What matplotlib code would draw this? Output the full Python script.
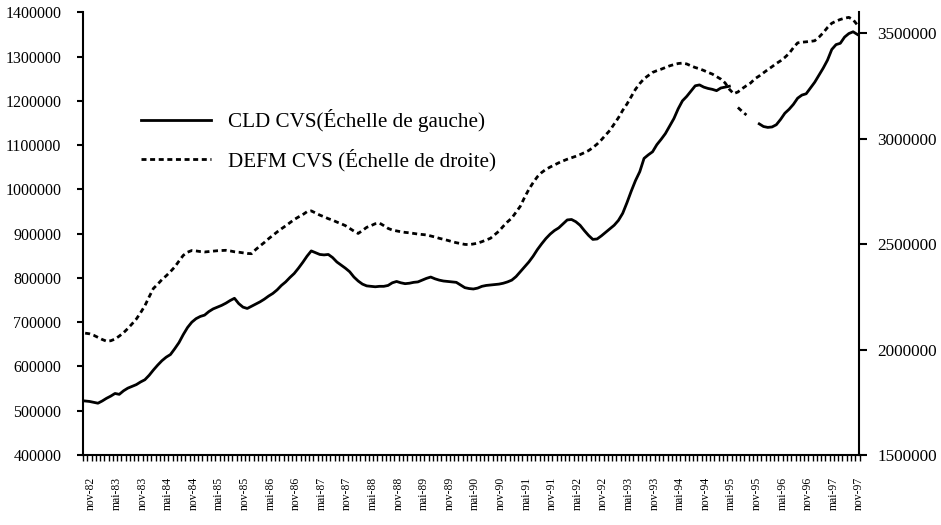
import numpy as np
from matplotlib import pyplot as plt
from matplotlib.ticker import FixedLocator, FuncFormatter

plt.rcParams['font.family'] = ['Liberation Serif', 'DejaVu Serif']

# monthly series, nov-82 .. dec-97 (182 months)
# CLD CVS, left axis (thousands), NaN where the series is broken
cld = [522, 521, 519, 517, 522, 528, 533, 539, 537, 545, 551, 555, 559,
       565, 570, 580, 592, 603, 613, 621, 627, 640, 654, 672, 688,
       700, 708, 713, 716, 724, 730, 734, 738, 743, 749, 754, 742,
       734, 731, 736, 741, 746, 752, 759, 765, 773, 783, 791, 801,
       810, 822, 835, 849, 861, 857, 853, 852, 853, 846, 836, 829,
       822, 814, 802, 793, 786, 782, 781, 780, 781, 781, 783, 789,
       792, 789, 787, 788, 790, 791, 795, 799, 802, 798, 795, 793,
       792, 791, 790, 784, 778, 776, 775, 777, 781, 783, 784, 785,
       786, 788, 791, 795, 803, 814, 825, 836, 849, 864, 877, 889,
       899, 907, 913, 922, 931, 932, 927, 919, 907, 896, 887, 888,
       895, 903, 911, 919, 930, 946, 970, 996, 1020, 1040, 1070, 1078,
       1085, 1101, 1113, 1126, 1143, 1160, 1182, 1200, 1210, 1222, 1234, 1236,
       1231, 1228, 1226, 1223, 1229, 1231, 1233, np.nan, 1185, 1176, 1168, np.nan,
       np.nan, 1148, 1142, 1140, 1141, 1146, 1158, 1172, 1181, 1192, 1206, 1213,
       1216, 1229, 1242, 1258, 1274, 1292, 1316, 1327, 1330, 1344, 1352, 1356,
       1350]
cld_break = [153, 154, 155]

# DEFM CVS, right axis (thousands)
defm = [2078, 2075, 2068, 2058, 2048, 2040, 2042, 2050, 2064, 2080, 2100, 2122, 2145,
        2175, 2208, 2250, 2290, 2310, 2332, 2350, 2370, 2392, 2420, 2447, 2462,
        2470, 2468, 2465, 2463, 2465, 2467, 2469, 2470, 2471, 2468, 2464, 2462,
        2459, 2456, 2455, 2475, 2492, 2508, 2526, 2542, 2558, 2573, 2587, 2602,
        2617, 2629, 2640, 2654, 2658, 2648, 2638, 2630, 2621, 2614, 2605, 2597,
        2588, 2575, 2562, 2551, 2565, 2580, 2588, 2597, 2600, 2588, 2575, 2567,
        2563, 2559, 2556, 2554, 2551, 2548, 2546, 2544, 2539, 2534, 2528, 2523,
        2518, 2512, 2507, 2503, 2499, 2498, 2501, 2505, 2512, 2520, 2528, 2545,
        2562, 2585, 2606, 2624, 2652, 2680, 2722, 2760, 2792, 2820, 2840, 2855,
        2866, 2876, 2886, 2895, 2903, 2910, 2917, 2925, 2934, 2944, 2958, 2975,
        2995, 3018, 3040, 3070, 3100, 3135, 3165, 3200, 3235, 3262, 3285, 3300,
        3315, 3323, 3330, 3338, 3346, 3352, 3357, 3359, 3355, 3346, 3338, 3332,
        3324, 3315, 3307, 3295, 3283, 3265, 3235, 3214, 3222, 3238, 3252, 3265,
        3285, 3298, 3313, 3328, 3342, 3357, 3370, 3386, 3405, 3432, 3455, 3458,
        3460, 3462, 3465, 3482, 3503, 3528, 3548, 3558, 3566, 3572, 3576, 3565,
        3540]

month_names = ['nov', 'mai']
first_year = 82

cld = np.array(cld, dtype=float) * 1000
defm = np.array(defm, dtype=float) * 1000
x = np.arange(len(cld))

# tick labels every 6 months
label_pos = np.arange(0, len(cld), 6)
labels = []
for k in range(len(label_pos)):
    yr = first_year + (k + 1) // 2
    labels.append('%s-%02d' % (month_names[k % 2], yr % 100))

fig = plt.figure(figsize=(9.41, 5.25), dpi=100)
ax = fig.add_axes([83 / 941, 1 - 455 / 525, 776.5 / 941, (455 - 12.3) / 525])
ax2 = ax.twinx()

solid = cld.copy()
solid[cld_break] = np.nan
dashed = np.full_like(cld, np.nan)
dashed[cld_break] = cld[cld_break]

l1, = ax.plot(x, solid, color='black', lw=2, solid_joinstyle='round')
ax.plot(x, dashed, color='black', lw=2, linestyle=(0, (1.8, 1.3)))
l2, = ax2.plot(x, defm, color='black', lw=2, linestyle=(0, (1.8, 1.3)))

ax.set_xlim(-0.5, len(cld) - 0.5)
ax.set_ylim(400000, 1400000)
ax2.set_ylim(1500000, 3600000)

ax.set_yticks(np.arange(400000, 1400001, 100000))
ax2.set_yticks(np.arange(1500000, 3500001, 500000))
fmt = FuncFormatter(lambda v, p: '%d' % v)
ax.yaxis.set_major_formatter(fmt)
ax2.yaxis.set_major_formatter(fmt)

ax.set_xticks(label_pos)
ax.set_xticklabels(labels, rotation=90, fontsize=8.4, ha='left')
ax.xaxis.set_minor_locator(FixedLocator(np.arange(-0.5, len(cld), 1)))
ax.tick_params(axis='x', which='major', length=0, pad=16)
ax.tick_params(axis='x', which='minor', length=4.3, width=1, direction='out')
ax.tick_params(axis='y', length=4.5, width=1.5, direction='out', labelsize=11.5, pad=11)
ax2.tick_params(axis='y', length=6, width=1.5, direction='out', labelsize=12.3, pad=7)

ax.spines['top'].set_visible(False)
ax.spines['right'].set_visible(False)
for s in ('top', 'left', 'bottom'):
    ax2.spines[s].set_visible(False)
ax.spines['left'].set_linewidth(1.5)
ax.spines['bottom'].set_linewidth(1.5)
ax2.spines['right'].set_linewidth(1.5)

ax.legend([l1, l2], ['CLD CVS(Échelle de gauche)', 'DEFM CVS (Échelle de droite)'],
          loc='upper left', bbox_to_anchor=(0.064, 0.8), frameon=False,
          fontsize=15.2, handlelength=3.3, handletextpad=0.8, labelspacing=0.8,
          borderaxespad=0)

plt.savefig('out.png', dpi=100)
